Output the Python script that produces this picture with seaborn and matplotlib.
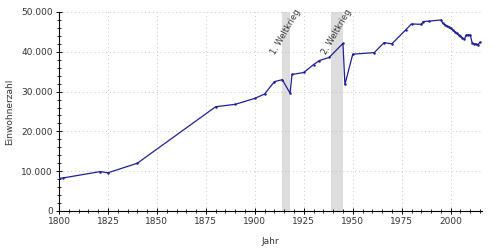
import matplotlib
matplotlib.use("Agg")
import matplotlib.pyplot as plt
import seaborn as sns
import pandas as pd
from matplotlib.ticker import MultipleLocator, FuncFormatter

years = [1800, 1802, 1821, 1825, 1840, 1880, 1890, 1900, 1905, 1910, 1914, 1918,
         1919, 1925, 1930, 1933, 1938, 1945, 1946, 1950, 1961, 1966, 1970, 1977,
         1980, 1985, 1986, 1989, 1995, 1996, 1997, 1998, 1999, 2000, 2001, 2002,
         2003, 2004, 2005, 2006, 2007, 2008, 2009, 2010, 2011, 2012, 2013, 2014, 2015]
population = [8200, 8300, 9900, 9600, 12000, 26200, 26800, 28300, 29400, 32500, 33000, 29600,
              34300, 34800, 36800, 37800, 38600, 42100, 31800, 39400, 39800, 42300, 42000, 45500,
              47000, 46900, 47600, 47700, 48000, 47200, 46800, 46500, 46300, 45900, 45500, 45100,
              44600, 44200, 43900, 43500, 43200, 44200, 44300, 44200, 42200, 42000, 41900, 41800, 42400]

wars = [(1914, 1918, "1. Weltkrieg"), (1939, 1945, "2. Weltkrieg")]

df = pd.DataFrame({"Jahr": years, "Einwohnerzahl": population})

sns.set_style("white")
plt.rcParams['font.family'] = ['DejaVu Sans']

fig = plt.figure(figsize=(5, 2.5), dpi=100)
ax = fig.add_axes([0.118, 0.156, 0.846, 0.796])

for start, end, label in wars:
    ax.axvspan(start, end, color="#dddddd", lw=0, zorder=0)
    ax.text((start + end) / 2, 45000, label, rotation=60, ha="center", va="center",
            fontsize=6, color="#333333", zorder=1)

sns.lineplot(data=df, x="Jahr", y="Einwohnerzahl", ax=ax, color="#1f1f96",
             lw=0.9, marker="o", markersize=1.8, markeredgewidth=0, zorder=3)

ax.set_xlim(1800, 2016)
ax.set_ylim(0, 50000)
ax.xaxis.set_major_locator(MultipleLocator(25))
ax.xaxis.set_minor_locator(MultipleLocator(5))
ax.yaxis.set_major_locator(MultipleLocator(10000))
ax.yaxis.set_minor_locator(MultipleLocator(2000))
ax.yaxis.set_major_formatter(FuncFormatter(lambda v, p: f"{int(v):,}".replace(",", ".")))

ax.grid(True, which="major", color="#c8c8c8", linestyle=(0, (1, 3)), lw=0.7)
for s in ["top", "right"]:
    ax.spines[s].set_visible(False)
for s in ["left", "bottom"]:
    ax.spines[s].set_color("black")
    ax.spines[s].set_linewidth(0.8)

ax.tick_params(axis="both", which="major", direction="inout", length=5, width=0.7,
               labelsize=6.5, labelcolor="#333333", color="black", pad=2)
ax.tick_params(axis="both", which="minor", direction="inout", length=3, width=0.6, color="black")
ax.tick_params(axis="x", which="both", bottom=True)
ax.tick_params(axis="y", which="both", left=True)

ax.set_xlabel("Jahr", fontsize=6.5, color="#333333", labelpad=8)
ax.set_ylabel("Einwohnerzahl", fontsize=6.5, color="#333333", labelpad=5)

fig.savefig("out.png", dpi=100)
